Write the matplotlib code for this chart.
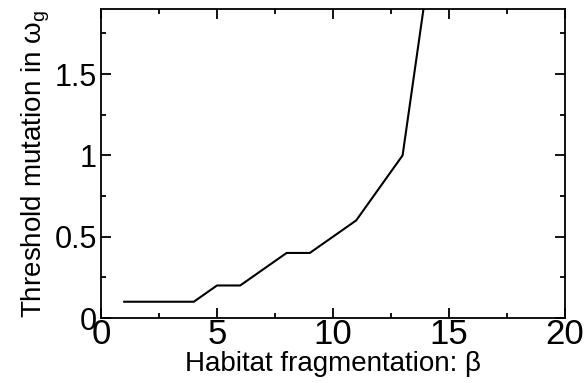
import matplotlib
matplotlib.use("Agg")
import matplotlib.pyplot as plt
from matplotlib.ticker import MultipleLocator

beta = [1, 2, 3, 4, 5, 6, 7, 8, 9, 10, 11, 12, 13, 14]
threshold = [0.1, 0.1, 0.1, 0.1, 0.2, 0.2, 0.3, 0.4, 0.4, 0.5, 0.6, 0.8, 1.0, 2.0]
xticks = [0, 5, 10, 15, 20]
yticks = [0, 0.5, 1, 1.5]
ytick_labels = ["0", "0.5", "1", "1.5"]

plt.rcParams['font.family'] = ['Liberation Sans', 'DejaVu Sans']
plt.rcParams['mathtext.fontset'] = 'custom'
plt.rcParams['mathtext.rm'] = 'Liberation Sans'

fig = plt.figure(figsize=(5.84, 3.83), dpi=100)
ax = fig.add_axes([101/584, (383-318)/383, (565-101)/584, (318-9)/383])
ax.plot(beta, threshold, color='black', lw=1.5, clip_on=True)
ax.set_xlim(0, 20)
ax.set_ylim(0, 1.9)
ax.set_xticks(xticks)
ax.set_yticks(yticks)
ax.set_yticklabels(ytick_labels)
ax.xaxis.set_minor_locator(MultipleLocator(2.5))
ax.yaxis.set_minor_locator(MultipleLocator(0.25))
ax.tick_params(which='both', direction='in', top=True, right=True, width=1.3)
ax.tick_params(which='major', length=7)
ax.tick_params(which='minor', length=3.5)
ax.tick_params(axis='x', labelsize=25, pad=0)
ax.tick_params(axis='y', labelsize=22, pad=3)
for s in ax.spines.values():
    s.set_linewidth(1.3)
ax.set_xlabel("Habitat fragmentation: β", fontsize=20, labelpad=0)
ax.set_ylabel("Threshold mutation in ω$_\\mathrm{g}$", fontsize=20, labelpad=2)
fig.savefig("out.png", dpi=100)
